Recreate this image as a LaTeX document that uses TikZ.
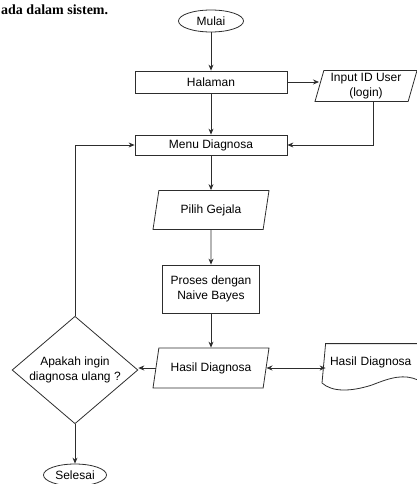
\documentclass[tikz,border=0pt]{standalone}
\usepackage{fontspec}
\setmainfont{Liberation Serif}
\setsansfont{Liberation Sans}
\usepackage{tikz}
\usetikzlibrary{arrows.meta, shapes.geometric}
\definecolor{flowline}{RGB}{45, 45, 45}

\begin{document}
\begin{tikzpicture}[
  x=1pt, y=1pt,
  >=Stealth,
  base/.style={
    draw=flowline, line width=0.8pt, inner sep=1pt,
    font=\sffamily\fontsize{12}{14.5}\selectfont, align=center
  },
  terminal/.style={base, ellipse, minimum width=65pt, minimum height=22pt},
  process/.style={base, rectangle, minimum width=#1, minimum height=22pt},
  process/.default=152pt,
  io/.style={
    base, trapezium, trapezium left angle=#1, trapezium right angle=180-#1,
    trapezium stretches body, minimum width=116pt, minimum height=39pt
  },
  io/.default=66,
  decision/.style={base, diamond, aspect=1.17, minimum width=124pt, minimum height=106pt},
  flow/.style={-{Stealth[length=6pt, width=5pt]}, draw=flowline, line width=0.8pt},
  both/.style={{Stealth[length=6pt, width=5pt]}-{Stealth[length=6pt, width=5pt]}, draw=flowline, line width=0.8pt},
]

\useasboundingbox (0, 0) rectangle (417, -484);

\def\colL{75}
\def\colM{211}
\def\colR{366}

\def\rA{-21}
\def\rB{-82}
\def\rC{-145}
\def\rD{-210}
\def\rE{-289}
\def\rF{-368}
\def\rG{-475}

% caption line from the page above
\node[font=\rmfamily\bfseries\fontsize{14}{16}\selectfont, anchor=base west, inner sep=0pt]
  (caption) at (1, -15) {ada dalam sistem.};

% main column
\node[terminal]                       (mulai)   at (\colM, \rA) {Mulai};
\node[process]                        (halaman) at (\colM, \rB) {Halaman};
\node[io=72, minimum width=102pt, minimum height=31pt] (login) at (\colR, -86) {Input ID User\\(login)};
\node[process, minimum height=20pt]   (menu)    at (\colM, \rC) {Menu Diagnosa};
\node[io]                             (gejala)  at (\colM, \rD) {Pilih Gejala};
\node[process=97pt, minimum height=48pt] (bayes) at (\colM, \rE) {Proses dengan\\Naive Bayes};
\node[io, minimum height=40pt]        (hasil)   at (\colM, \rF) {Hasil Diagnosa};

% decision and end
\node[decision]                       (ulang)   at (\colL, -370) {Apakah ingin\\diagnosa ulang ?};
\node[terminal, minimum width=63pt]   (selesai) at (\colL, \rG) {Selesai};

% document output
\node[base, draw=none, text width=104pt, align=left, minimum height=36pt, inner sep=4pt]
  (laporan) at (382, -362) {Hasil Diagnosa};
\draw[draw=flowline, line width=0.8pt]
  (laporan.north east) -- (laporan.north west) -- (322, -383)
  .. controls (332, -392) and (350, -392) .. (372, -385)
  .. controls (392, -377) and (404, -374) .. (418, -380);

% 1. Mulai to Halaman
\draw[flow] (mulai) -- (halaman);

% 2. Halaman to login
\draw[flow] (halaman.east) -- (halaman.east -| login.west);

% 3. login back to Menu Diagnosa
\draw[flow] ([xshift=7pt]login.south) |- (menu.east);

% 4. Halaman to Menu Diagnosa
\draw[flow] (halaman) -- (menu);

% 5. down the main column
\draw[flow] (menu) -- (gejala);
\draw[flow] (gejala) -- (bayes);
\draw[flow] (bayes) -- (hasil);

% 6. Hasil Diagnosa to decision and document
\draw[flow] (hasil.west) -- (hasil.west -| ulang.east);
\draw[both] (hasil.east) -- (hasil.east -| laporan.west);

% 7. diagnosa ulang loops back
\draw[flow] (ulang.north) |- (menu.west);

% 8. done
\draw[flow] (ulang) -- (selesai);

\end{tikzpicture}
\end{document}
